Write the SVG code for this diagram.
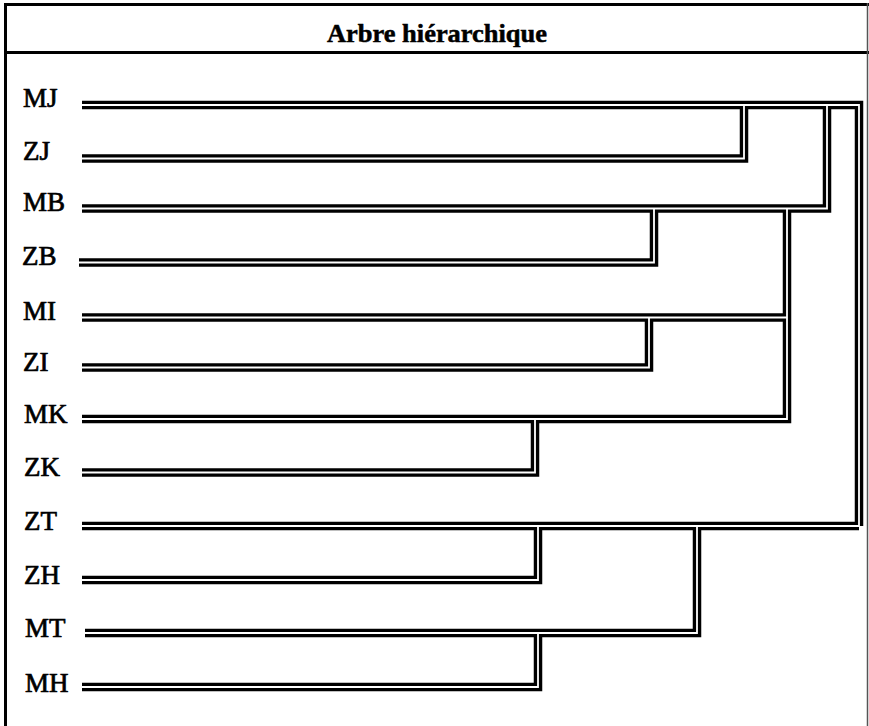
<svg xmlns="http://www.w3.org/2000/svg" width="869" height="726" viewBox="0 0 869 726">
  <style>
    .frame { stroke: #000; fill: none; }
    .lbl { font-family: "Liberation Serif", "Times New Roman", serif; font-size: 27px; fill: #000; stroke: #000; stroke-width: 0.7; }
    .title { font-family: "Liberation Serif", "Times New Roman", serif; font-size: 25px; font-weight: bold; fill: #000; stroke: #000; stroke-width: 0.5; }
    .outer { stroke: #000; stroke-width: 8.5; fill: none; stroke-linejoin: miter; stroke-linecap: butt; }
    .inner { stroke: #fff; stroke-width: 1.8; fill: none; stroke-linejoin: miter; stroke-linecap: butt; }
  </style>
  <defs>
    <path id="c-mj" d="M82,105 H859 V526"/>
    <path id="c-zj" d="M82,158.5 H744 V105"/>
    <path id="c-mb" d="M82,208.5 H827 V105"/>
    <path id="c-zb" d="M79,262.5 H654 V208.5"/>
    <path id="c-mi" d="M82,317.5 H787"/>
    <path id="c-zi" d="M82,367.5 H649 V317.5"/>
    <path id="c-mk" d="M82,419 H787 V208.5"/>
    <path id="c-zk" d="M82,472.5 H535 V419"/>
    <path id="c-zt" d="M82,526 H859"/>
    <path id="c-zh" d="M82,580 H538 V526"/>
    <path id="c-mt" d="M85,633 H697 V526"/>
    <path id="c-mh" d="M82,687 H538 V633"/>
  </defs>
  <rect width="869" height="726" fill="#fff"/>
  <g id="frame">
    <line class="frame" x1="5.5" y1="3" x2="5.5" y2="726" stroke-width="3"/>
    <line class="frame" x1="4" y1="4.5" x2="869" y2="4.5" stroke-width="3"/>
    <line class="frame" x1="4" y1="52.5" x2="869" y2="52.5" stroke-width="3"/>
    <line x1="867.5" y1="3" x2="867.5" y2="726" stroke="#555" stroke-width="1.5"/>
    <text class="title" x="437" y="42" text-anchor="middle" textLength="220" lengthAdjust="spacingAndGlyphs">Arbre hiérarchique</text>
  </g>
  <g id="connectors">
    <use href="#c-mj" class="outer"/>
    <use href="#c-zj" class="outer"/>
    <use href="#c-mb" class="outer"/>
    <use href="#c-zb" class="outer"/>
    <use href="#c-mi" class="outer"/>
    <use href="#c-zi" class="outer"/>
    <use href="#c-mk" class="outer"/>
    <use href="#c-zk" class="outer"/>
    <use href="#c-zt" class="outer"/>
    <use href="#c-zh" class="outer"/>
    <use href="#c-mt" class="outer"/>
    <use href="#c-mh" class="outer"/>
    <use href="#c-mj" class="inner"/>
    <use href="#c-zj" class="inner"/>
    <use href="#c-mb" class="inner"/>
    <use href="#c-zb" class="inner"/>
    <use href="#c-mi" class="inner"/>
    <use href="#c-zi" class="inner"/>
    <use href="#c-mk" class="inner"/>
    <use href="#c-zk" class="inner"/>
    <use href="#c-zt" class="inner"/>
    <use href="#c-zh" class="inner"/>
    <use href="#c-mt" class="inner"/>
    <use href="#c-mh" class="inner"/>
  </g>
  <g id="node-MJ"><text class="lbl" x="23" y="107">MJ</text></g>
  <g id="node-ZJ"><text class="lbl" x="23" y="160">ZJ</text></g>
  <g id="node-MB"><text class="lbl" x="23" y="211">MB</text></g>
  <g id="node-ZB"><text class="lbl" x="22" y="265">ZB</text></g>
  <g id="node-MI"><text class="lbl" x="23" y="320">MI</text></g>
  <g id="node-ZI"><text class="lbl" x="23" y="371">ZI</text></g>
  <g id="node-MK"><text class="lbl" x="24" y="423">MK</text></g>
  <g id="node-ZK"><text class="lbl" x="24" y="476">ZK</text></g>
  <g id="node-ZT"><text class="lbl" x="24" y="530">ZT</text></g>
  <g id="node-ZH"><text class="lbl" x="24" y="584">ZH</text></g>
  <g id="node-MT"><text class="lbl" x="25" y="637">MT</text></g>
  <g id="node-MH"><text class="lbl" x="25" y="692">MH</text></g>
</svg>
